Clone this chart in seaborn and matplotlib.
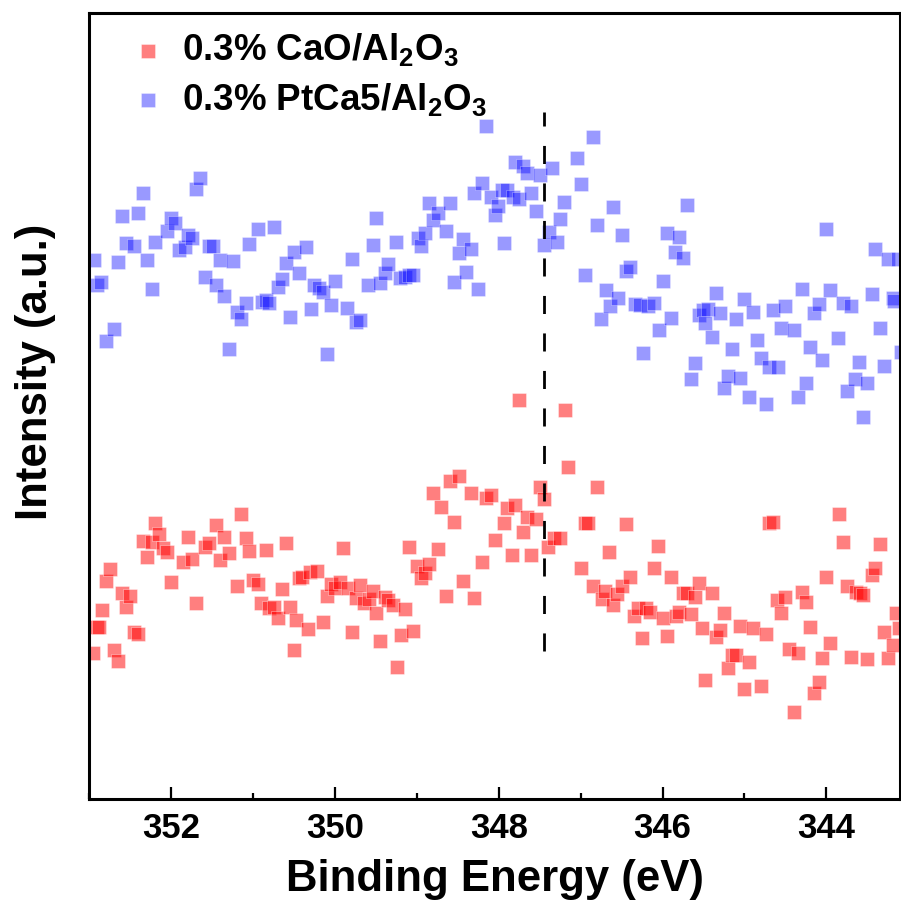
import numpy as np
import pandas as pd
import matplotlib
matplotlib.use("Agg")
import matplotlib.pyplot as plt
import seaborn as sns
from matplotlib.ticker import MultipleLocator

# ---------------- data ----------------
series_names = ["0.3% CaO/Al$_2$O$_3$", "0.3% PtCa5/Al$_2$O$_3$"]

blue_energy = [
    352.94, 352.91, 352.86, 352.79, 352.70, 352.65, 352.60, 352.55, 352.45, 352.40,
    352.35, 352.30, 352.24, 352.20, 352.05, 352.00, 351.95, 351.90, 351.83, 351.79,
    351.74, 351.70, 351.65, 351.59, 351.54, 351.49, 351.45, 351.40, 351.35, 351.30,
    351.25, 351.20, 351.15, 351.09, 351.05, 350.94, 350.89, 350.84, 350.80, 350.75,
    350.70, 350.65, 350.60, 350.55, 350.50, 350.44, 350.35, 350.29, 350.25, 350.20,
    350.15, 350.10, 350.05, 350.00, 349.85, 349.79, 349.74, 349.69, 349.60, 349.54,
    349.50, 349.45, 349.39, 349.35, 349.25, 349.20, 349.14, 349.10, 349.05, 348.99,
    348.95, 348.90, 348.85, 348.80, 348.74, 348.65, 348.59, 348.55, 348.49, 348.44,
    348.40, 348.34, 348.30, 348.25, 348.20, 348.15, 348.09, 348.05, 348.01, 347.96,
    347.94, 347.90, 347.83, 347.80, 347.75, 347.70, 347.65, 347.60, 347.55, 347.50,
    347.45, 347.39, 347.35, 347.29, 347.25, 347.20, 347.05, 347.00, 346.95, 346.85,
    346.80, 346.75, 346.69, 346.64, 346.60, 346.54, 346.50, 346.45, 346.40, 346.34,
    346.27, 346.24, 346.18, 346.11, 346.04, 345.99, 345.95, 345.90, 345.85, 345.80,
    345.75, 345.70, 345.65, 345.60, 345.55, 345.50, 345.48, 345.44, 345.39, 345.35,
    345.30, 345.25, 345.20, 345.15, 345.10, 345.05, 345.00, 344.95, 344.90, 344.85,
    344.80, 344.74, 344.70, 344.65, 344.59, 344.55, 344.50, 344.40, 344.35, 344.30,
    344.25, 344.20, 344.15, 344.09, 344.05, 344.00, 343.95, 343.86, 343.80, 343.75,
    343.70, 343.65, 343.60, 343.55, 343.50, 343.44, 343.40, 343.35, 343.30, 343.25,
    343.19, 343.17, 343.13, 343.09,
]
blue_intensity = [
    539, 514, 517, 458, 470, 537, 583, 556, 553, 586,
    606, 539, 510, 557, 568, 581, 576, 549, 552, 564,
    561, 610, 621, 522, 553, 553, 514, 539, 503, 450,
    538, 487, 480, 496, 555, 570, 497, 499, 496, 572,
    512, 520, 536, 482, 547, 526, 552, 490, 514, 511,
    507, 445, 494, 518, 491, 540, 477, 479, 514, 554,
    581, 516, 526, 535, 557, 521, 522, 524, 524, 561,
    553, 566, 596, 579, 586, 568, 596, 517, 546, 560,
    527, 550, 606, 510, 616, 673, 602, 584, 593, 609,
    556, 609, 602, 637, 600, 633, 626, 606, 588, 624,
    554, 567, 631, 557, 580, 597, 641, 615, 524, 662,
    574, 480, 509, 493, 592, 501, 564, 528, 532, 495,
    494, 446, 493, 496, 469, 518, 566, 481, 547, 562,
    541, 594, 420, 436, 484, 489, 476, 490, 462, 506,
    486, 411, 423, 450, 480, 421, 500, 402, 487, 459,
    441, 395, 432, 489, 432, 471, 493, 469, 402, 510,
    416, 452, 486, 495, 439, 570, 509, 461, 496, 408,
    493, 420, 437, 382, 416, 505, 550, 471, 433, 540,
    501, 498, 540, 447,
]

red_energy = [
    352.96, 352.91, 352.88, 352.84, 352.79, 352.75, 352.70, 352.65, 352.60, 352.55,
    352.50, 352.45, 352.40, 352.35, 352.30, 352.24, 352.20, 352.15, 352.10, 352.05,
    352.00, 351.85, 351.80, 351.74, 351.70, 351.59, 351.54, 351.45, 351.40, 351.35,
    351.30, 351.20, 351.15, 351.09, 351.05, 351.00, 350.94, 350.90, 350.84, 350.80,
    350.75, 350.70, 350.65, 350.60, 350.55, 350.50, 350.48, 350.44, 350.40, 350.33,
    350.30, 350.22, 350.15, 350.10, 350.05, 350.00, 349.94, 349.90, 349.84, 349.79,
    349.74, 349.69, 349.64, 349.59, 349.54, 349.50, 349.45, 349.39, 349.35, 349.29,
    349.24, 349.19, 349.14, 349.09, 349.05, 349.00, 348.95, 348.90, 348.85, 348.80,
    348.74, 348.70, 348.65, 348.59, 348.55, 348.49, 348.44, 348.34, 348.30, 348.20,
    348.15, 348.09, 348.05, 347.94, 347.90, 347.84, 347.80, 347.75, 347.70, 347.66,
    347.60, 347.54, 347.50, 347.45, 347.40, 347.33, 347.25, 347.19, 347.15, 347.00,
    346.95, 346.91, 346.85, 346.80, 346.74, 346.70, 346.65, 346.60, 346.55, 346.50,
    346.45, 346.40, 346.35, 346.30, 346.25, 346.20, 346.15, 346.10, 346.05, 346.00,
    345.95, 345.90, 345.84, 345.80, 345.75, 345.70, 345.65, 345.60, 345.56, 345.52,
    345.48, 345.40, 345.35, 345.30, 345.25, 345.20, 345.15, 345.10, 345.05, 345.00,
    344.95, 344.90, 344.80, 344.74, 344.70, 344.65, 344.60, 344.55, 344.50, 344.45,
    344.40, 344.35, 344.30, 344.25, 344.20, 344.15, 344.09, 344.05, 344.00, 343.95,
    343.85, 343.80, 343.75, 343.70, 343.64, 343.59, 343.55, 343.50, 343.44, 343.40,
    343.35, 343.30, 343.25, 343.19, 343.15, 343.11,
]
red_intensity = [
    146, 172, 172, 189, 218, 230, 149, 138, 206, 192,
    203, 167, 165, 258, 242, 257, 276, 265, 251, 247,
    217, 237, 262, 240, 196, 252, 256, 274, 239, 262,
    246, 213, 285, 261, 248, 219, 215, 196, 249, 191,
    192, 181, 210, 256, 192, 149, 179, 221, 222, 170,
    227, 228, 177, 203, 215, 211, 217, 251, 211, 167,
    201, 214, 196, 200, 208, 186, 158, 202, 199, 194,
    132, 164, 190, 252, 168, 233, 221, 226, 235, 306,
    250, 292, 203, 318, 277, 323, 218, 306, 201, 237,
    301, 304, 259, 276, 291, 244, 294, 399, 267, 282,
    244, 280, 312, 300, 252, 261, 261, 389, 332, 231,
    276, 276, 213, 312, 200, 208, 247, 194, 205, 213,
    275, 222, 183, 191, 161, 191, 187, 231, 253, 181,
    163, 222, 183, 187, 206, 206, 185, 202, 216, 171,
    119, 206, 162, 169, 186, 131, 144, 144, 173, 110,
    137, 171, 113, 165, 276, 277, 199, 186, 202, 150,
    87, 146, 207, 197, 172, 106, 117, 141, 222, 156,
    285, 257, 213, 142, 207, 206, 204, 140, 224, 231,
    255, 167, 141, 154, 186, 171,
]

ref_energy = 347.45          # dashed reference line (eV)
ref_span = (148, 687)        # intensity range covered by the dashed line
x_range = (353.0, 343.1)
y_range = (0, 786)
x_major_ticks = [352, 350, 348, 346, 344]

# ---------------- styling ----------------
sns.set_style("ticks")
plt.rcParams["font.family"] = ["Liberation Sans", "DejaVu Sans"]
plt.rcParams["font.weight"] = "bold"
plt.rcParams["mathtext.fontset"] = "custom"
plt.rcParams["mathtext.rm"] = "Liberation Sans:bold"
plt.rcParams["mathtext.default"] = "rm"
for key in ["text.color", "axes.labelcolor", "xtick.color", "ytick.color",
            "axes.edgecolor"]:
    plt.rcParams[key] = "black"

fig = plt.figure(figsize=(9.01, 9.08), dpi=100)
ax = fig.add_axes([89.3 / 901, 109 / 908, (900 - 89.3) / 901, 786 / 908])

df_red = pd.DataFrame({"E": red_energy, "I": red_intensity})
df_blue = pd.DataFrame({"E": blue_energy, "I": blue_intensity})

sns.scatterplot(data=df_red, x="E", y="I", marker="s", s=105, color="red",
                alpha=0.5, edgecolor="white", linewidth=0.5,
                label=series_names[0], ax=ax)
sns.scatterplot(data=df_blue, x="E", y="I", marker="s", s=105, color="blue",
                alpha=0.4, edgecolor="white", linewidth=0.5,
                label=series_names[1], ax=ax)

ax.vlines(ref_energy, ref_span[0], ref_span[1], colors="black",
          linestyles=(0, (6.5, 7.0)), linewidth=2.0)

ax.set_xlim(*x_range)
ax.set_ylim(*y_range)
ax.set_yticks([])
ax.set_xticks(x_major_ticks)
ax.xaxis.set_minor_locator(MultipleLocator(1))
ax.tick_params(axis="x", which="major", direction="in", length=9, width=1.6,
               labelsize=25, pad=9.5)
ax.tick_params(axis="x", which="minor", direction="in", length=4.5, width=1.6)
for sp in ax.spines.values():
    sp.set_linewidth(2.2)
    sp.set_visible(True)

ax.set_xlabel("Binding Energy (eV)", fontsize=31.5, fontweight="bold", labelpad=10)
ax.set_ylabel("Intensity (a.u.)", fontsize=31.5, fontweight="bold")
ax.yaxis.set_label_coords(-0.041, 0.543)

leg = ax.legend(loc="upper left", bbox_to_anchor=(0.027, 1.0), frameon=False,
                fontsize=26.5, handlelength=1.0, handletextpad=0.42,
                labelspacing=0.33, borderaxespad=0.1, markerscale=1.0)

fig.savefig("out.png", dpi=100)
